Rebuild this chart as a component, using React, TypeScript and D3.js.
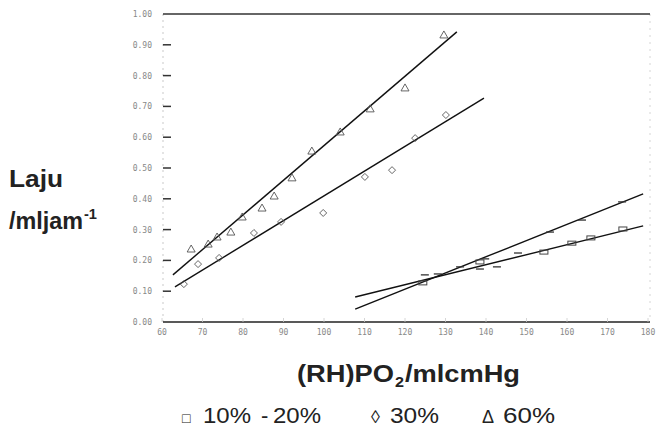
import React from "react";
import * as d3 from "d3";

const yTicks = [0, 0.1, 0.2, 0.3, 0.4, 0.5, 0.6, 0.7, 0.8, 0.9, 1.0];
const xTicks = [60, 70, 80, 90, 100, 110, 120, 130, 140, 150, 160, 170, 180];

// 60% (triangles)
const tri60: [number, number][] = [
  [67.2, 0.237], [71.4, 0.253], [73.6, 0.276], [77.0, 0.292], [79.8, 0.341],
  [84.7, 0.37], [87.7, 0.409], [92.1, 0.468], [97.0, 0.555], [104.0, 0.617],
  [111.4, 0.692], [120.0, 0.76], [129.6, 0.932],
];
// 30% (diamonds)
const dia30: [number, number][] = [
  [65.4, 0.123], [68.9, 0.188], [74.1, 0.208], [82.7, 0.289], [89.4, 0.325],
  [99.8, 0.354], [110.1, 0.471], [116.8, 0.493], [122.5, 0.597], [130.1, 0.672],
];
// 10% (squares)
const sq10: [number, number][] = [
  [124.4, 0.127], [138.5, 0.195], [154.3, 0.227], [161.2, 0.256], [165.9, 0.273], [173.8, 0.302],
];
// 20% (dashes)
const dash20: [number, number][] = [
  [124.9, 0.153], [128.1, 0.156], [133.6, 0.179], [139.8, 0.205], [138.5, 0.172],
  [142.7, 0.179], [147.9, 0.224], [155.8, 0.292], [163.7, 0.331], [173.6, 0.39],
];

// fitted lines
const fitLines: [number, number][][] = [
  [[62.7, 0.153], [132.8, 0.942]],
  [[63.2, 0.114], [139.5, 0.727]],
  [[107.7, 0.042], [178.8, 0.416]],
  [[107.7, 0.081], [178.8, 0.312]],
];

const x = d3.scaleLinear().domain([60, 180]).range([162, 648]);
const y = d3.scaleLinear().domain([0, 1]).range([322, 14]);
const line = d3.line<[number, number]>().x((d) => x(d[0])).y((d) => y(d[1]));

const F = "'Liberation Sans', Arial, sans-serif";
const TF = "'DejaVu Sans Mono', monospace";
const LA = "spacingAndGlyphs";

export default function App() {
  return (
    <svg
      width={662}
      height={432}
      style={{ position: "absolute", left: 0, top: 0, background: "#fff" }}
    >
      {/* frame */}
      <line x1={163} x2={163} y1={14} y2={322} stroke="#bbb" strokeWidth={0.8} strokeDasharray="2,4" />
      <line x1={650} x2={650} y1={14} y2={322} stroke="#ccc" strokeWidth={0.8} strokeDasharray="2,5" />
      <line x1={163} x2={650} y1={y(1)} y2={y(1)} stroke="#333" strokeWidth={1.6} />
      <line x1={163} x2={650} y1={y(0)} y2={y(0)} stroke="#222" strokeWidth={1.6} />

      {/* y ticks */}
      {yTicks.map((t) => (
        <g key={t}>
          {t > 0 && t < 1 && (
            <line x1={163} x2={171} y1={y(t)} y2={y(t)} stroke="#333" strokeWidth={1.5} />
          )}
          <text x={152} y={y(t) + 3} textAnchor="end" fontFamily={TF} fontSize={8} fill="#888">
            {t.toFixed(2)}
          </text>
        </g>
      ))}

      {/* x ticks */}
      {xTicks.map((t) => (
        <g key={t}>
          <line x1={x(t)} x2={x(t)} y1={y(0) - 4} y2={y(0)} stroke="#ccc" strokeWidth={0.8} />
          <text x={x(t)} y={335} textAnchor="middle" fontFamily={TF} fontSize={8} fill="#888">
            {t}
          </text>
        </g>
      ))}

      {/* fitted lines */}
      {fitLines.map((l, i) => (
        <path key={i} d={line(l) || ""} fill="none" stroke="#111" strokeWidth={1.4} />
      ))}

      {/* markers */}
      {tri60.map((d, i) => {
        const cx = x(d[0]);
        const cy = y(d[1]);
        return (
          <path
            key={"t" + i}
            d={`M${cx - 4},${cy + 3}L${cx},${cy - 4}L${cx + 4},${cy + 3}Z`}
            fill="none"
            stroke="#555"
            strokeWidth={0.9}
          />
        );
      })}
      {dia30.map((d, i) => {
        const cx = x(d[0]);
        const cy = y(d[1]);
        return (
          <path
            key={"d" + i}
            d={`M${cx},${cy - 3.5}L${cx + 3.5},${cy}L${cx},${cy + 3.5}L${cx - 3.5},${cy}Z`}
            fill="none"
            stroke="#555"
            strokeWidth={0.9}
          />
        );
      })}
      {sq10.map((d, i) => {
        const cx = x(d[0]);
        const cy = y(d[1]);
        return (
          <rect key={"s" + i} x={cx - 4} y={cy - 2} width={8} height={4} fill="none" stroke="#444" strokeWidth={1} />
        );
      })}
      {dash20.map((d, i) => {
        const cx = x(d[0]);
        const cy = y(d[1]);
        return <line key={"m" + i} x1={cx - 4} x2={cx + 4} y1={cy} y2={cy} stroke="#333" strokeWidth={1.3} />;
      })}

      {/* y title */}
      <g fontFamily={F} fontWeight="bold" fill="#222">
        <text x={9} y={187} fontSize={23} textLength={54} lengthAdjust={LA}>Laju</text>
        <text x={9} y={229} fontSize={23} textLength={74} lengthAdjust={LA}>/mljam</text>
        <text x={84} y={219} fontSize={14} textLength={13} lengthAdjust={LA}>-1</text>
      </g>

      {/* x title */}
      <g fontFamily={F} fontWeight="bold" fill="#222">
        <text x={297} y={382} fontSize={24} textLength={97} lengthAdjust={LA}>(RH)PO</text>
        <text x={395} y={387} fontSize={15} textLength={9} lengthAdjust={LA}>2</text>
        <text x={405} y={382} fontSize={24} textLength={115} lengthAdjust={LA}>/mlcmHg</text>
      </g>

      {/* legend */}
      <g fontFamily={F} fontSize={22} fill="#222">
        <text x={182} y={423} fontSize={14}>□</text>
        <text x={203} y={423} textLength={48} lengthAdjust={LA}>10%</text>
        <text x={261} y={423}>-</text>
        <text x={273} y={423} textLength={48} lengthAdjust={LA}>20%</text>
        <text x={371} y={423} fontSize={18}>◊</text>
        <text x={390} y={423} textLength={49} lengthAdjust={LA}>30%</text>
        <text x={482} y={423} fontSize={18}>Δ</text>
        <text x={503} y={423} textLength={52} lengthAdjust={LA}>60%</text>
      </g>
    </svg>
  );
}
